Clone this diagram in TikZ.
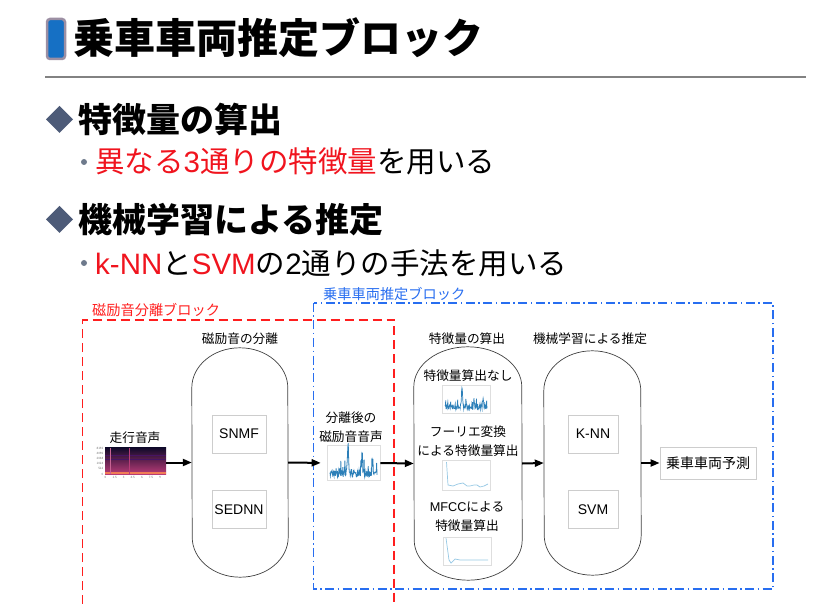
\documentclass[tikz,border=0pt]{standalone}
\usepackage{fontspec}
\setmainfont{Noto Sans CJK JP}
\newfontfamily\lat{Liberation Sans}
\usetikzlibrary{positioning,calc,arrows.meta}

\definecolor{iconblue}{RGB}{22,112,196}
\definecolor{icongray}{RGB}{156,143,163}
\definecolor{rulegray}{RGB}{130,130,130}
\definecolor{slate}{RGB}{77,91,120}
\definecolor{dotgray}{RGB}{110,122,140}
\definecolor{hired}{RGB}{240,20,30}
\definecolor{blkred}{RGB}{255,30,30}
\definecolor{blkblue}{RGB}{40,110,240}
\definecolor{boxgray}{RGB}{205,205,205}
\definecolor{wavecol}{RGB}{44,127,184}
\definecolor{featcol}{RGB}{150,200,228}
\definecolor{specdark}{RGB}{12,8,40}
\definecolor{specmid}{RGB}{70,20,100}
\definecolor{specpink}{RGB}{185,60,120}
\definecolor{specorange}{RGB}{240,125,85}

% outline of a capsule round a named node
\newcommand\capsule[3]{%
  \draw[capline] ($(#1.north west)+(0,#3)$)
    arc[start angle=180,end angle=360,x radius=#2,y radius=#3]
    -- ($(#1.south east)-(0,#3)$)
    arc[start angle=0,end angle=180,x radius=#2,y radius=#3] -- cycle;}

\begin{document}
\begin{tikzpicture}[x=1pt,y=-1pt,
  flow/.style={line width=2pt,-{Triangle[length=9pt,width=7pt]}},
  capline/.style={draw=black!75,line width=0.7pt},
  capsule/.style={inner sep=0pt},
  algo/.style={draw=boxgray,line width=0.8pt,fill=white,inner sep=0pt,minimum width=54pt,minimum height=38pt,font=\lat\fontsize{14}{16}\selectfont},
  lab/.style={inner sep=0pt,align=center,font=\fontsize{12.7}{19}\selectfont},
  blk/.style={inner sep=0pt,anchor=west,font=\fontsize{14.2}{16}\selectfont},
  plotbox/.style={draw=black!13,line width=0.6pt,inner sep=0pt},
  tick/.style={inner sep=0pt,text=black!55,font=\fontsize{3}{3}\selectfont}]
  \useasboundingbox (0,0) rectangle (836,604);
  \pgfmathsetseed{11}

  % slide title
  \draw[icongray,fill=iconblue,line width=2.5pt,rounded corners=3pt] (47,19) rectangle (65,59);
  \node[anchor=west,inner sep=0pt,font=\bfseries\fontsize{41}{41}\selectfont] (title) at (73,38) {乗車車両推定ブロック};
  \draw[rulegray,line width=2pt] (45,77) -- (806,77);

  % bullets
  \foreach \y in {119.5,219.5}{
    \fill[slate] (46,\y) -- (59.5,\y-13.5) -- (73,\y) -- (59.5,\y+13.5) -- cycle;
  }
  \foreach \y in {162,263}{
    \fill[dotgray] (84,\y) circle (3);
  }
  \node[anchor=west,inner sep=0pt,font=\bfseries\fontsize{34}{34}\selectfont] (h1) at (78,119.5) {特徴量の算出};
  \node[anchor=west,inner sep=0pt,font=\bfseries\fontsize{34}{34}\selectfont] (h2) at (78,220) {機械学習による推定};
  \node[anchor=west,inner sep=0pt,font=\fontsize{29.5}{30}\selectfont] (s1) at (95,161.5)
    {\textcolor{hired}{異なる{\lat 3}通りの特徴量}を用いる};
  \node[anchor=west,inner sep=0pt,font=\fontsize{29.5}{30}\selectfont] (s2) at (95,263)
    {\textcolor{hired}{\lat k-NN}と\textcolor{hired}{\lat SVM}の{\lat 2}通りの手法を用いる};

  % blocks
  \draw[blkred,line width=1.5pt,dash pattern=on 9pt off 5pt] (82.5,604) -- (82.5,320) -- (394,320) -- (394,604);
  \node[blk,text=blkred] (redlab) at (92,310) {磁励音分離ブロック};
  \draw[blkblue,line width=1.5pt,dash pattern=on 9pt off 3.5pt on 1.5pt off 3.5pt] (313.5,303) rectangle (773,589);
  \node[blk,text=blkblue] (bluelab) at (323,294) {乗車車両推定ブロック};

  % running sound
  \node[inner sep=0pt,minimum width=61pt,minimum height=27pt,top color=specdark,middle color=specmid,bottom color=specpink] (spec) at (135.5,460.5) {};
  \fill[specorange] (105,471.5) rectangle (166,474);
  \draw[specmid,line width=0.5pt] (105,455) -- (166,455) (105,459) -- (166,459);
  \draw[specpink!80,line width=0.8pt] (110,448) -- (110,474);
  \draw[specpink,line width=1pt] (129,448) -- (129,474);
  \foreach \v [count=\i] in {8192,4096,2048,1024,512,0}{
    \node[tick,anchor=east] (sy\i) at (103.5,{448.5+5.1*(\i-1)}) {\v};
  }
  \foreach \v [count=\i] in {0,1.5,3,4.5,6,7.5,9}{
    \node[tick] (sx\i) at ({105.5+9.1*(\i-1)},477.5) {\v};
  }
  \node[lab] (speclab) at (135,438) {走行音声};

  % separation
  \node[capsule,minimum width=96pt,minimum height=229pt] (sep) at (240,462.5) {};
  \capsule{sep}{48}{40}
  \node[lab] (seplab) at (240,339) {磁励音の分離};
  \node[algo] (snmf) at (239,434) {SNMF};
  \node[algo] (sednn) at (239,509.5) {SEDNN};

  % separated sound
  \node[plotbox,minimum width=53pt,minimum height=35pt] (wave) at (353.5,463) {};
  \draw[wavecol,line width=0.8pt] plot[domain=330:377,samples=140]
    (\x,{477-7*rnd-12*rnd^5-27*max(0,1-abs(\x-348)/1.3)-12*max(0,1-abs(\x-362)/1)-12*max(0,1-abs(\x-372.5)/1)});
  \node[lab] (wavelab) at (351,427) {分離後の\\磁励音音声};

  % features
  \node[capsule,minimum width=108pt,minimum height=233pt] (feat) at (468,463.5) {};
  \capsule{feat}{54}{40}
  \node[lab] (featlab) at (467,339) {特徴量の算出};
  \node[lab] (f1) at (468,376) {特徴量算出なし};
  \node[plotbox,minimum width=48pt,minimum height=28pt] (p1) at (466,399) {};
  \draw[wavecol,line width=0.7pt] plot[domain=445:487,samples=120]
    (\x,{410-5*rnd-8*rnd^5-21*max(0,1-abs(\x-462)/1.2)-9*max(0,1-abs(\x-474)/1)-9*max(0,1-abs(\x-483)/1)});
  \node[lab] (f2) at (468,441) {フーリエ変換\\による特徴量算出};
  \node[plotbox,minimum width=48pt,minimum height=30pt] (p2) at (466,475) {};
  \draw[featcol,line width=0.7pt] (446.5,462) -- (448,485) -- (453,486) -- (458,484) -- (463,483) -- (467,486)
    -- (470,486) -- (474,485) -- (477,485) -- (480,487) -- (484,486) -- (488,484);
  \node[lab] (f3) at (467,517) {{\lat MFCC}による\\特徴量算出};
  \node[plotbox,minimum width=48pt,minimum height=28pt] (p3) at (467,551) {};
  \draw[featcol,line width=0.7pt] (446,538) -- (449,560) -- (451,563) -- (455,559) -- (460,560)
    -- (470,560) -- (480,560) -- (488,560);

  % estimation
  \node[capsule,minimum width=97pt,minimum height=224pt] (ml) at (592.5,463) {};
  \capsule{ml}{48.5}{40}
  \node[lab] (mllab) at (590,339) {機械学習による推定};
  \node[algo,minimum width=50pt] (knn) at (593,434) {K-NN};
  \node[algo,minimum width=50pt] (svm) at (593,509.5) {SVM};
  \node[algo,minimum width=96pt,minimum height=32pt,font=\fontsize{14}{16}\selectfont] (res) at (708,463) {乗車車両予測};

  % flow
  \draw[flow] (spec.east |- sep.west) -- (sep.west);
  \draw[flow,shorten >=6pt] (sep.east) -- (wave.west);
  \draw[flow] (wave.east) -- (feat.west);
  \draw[flow] (feat.east) -- (ml.west);
  \draw[flow] (ml.east) -- (res.west);
\end{tikzpicture}
\end{document}
